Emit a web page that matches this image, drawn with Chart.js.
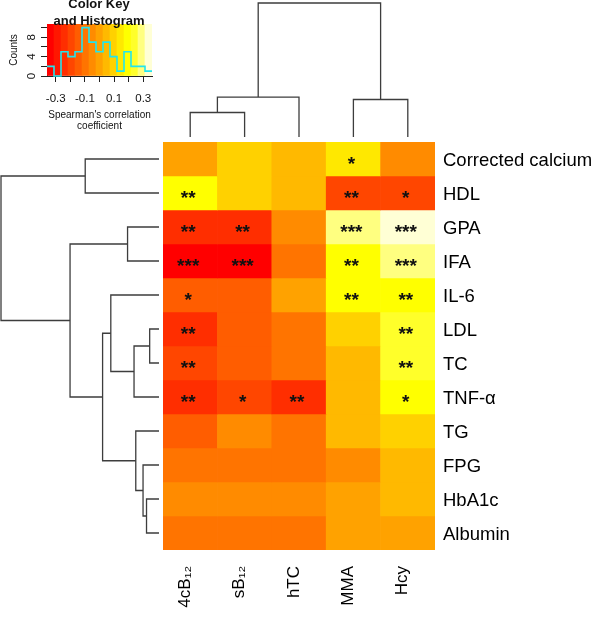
<!DOCTYPE html>
<html><head><meta charset="utf-8">
<script src="https://cdn.jsdelivr.net/npm/chart.js@4.4.1/dist/chart.umd.min.js"></script>
<style>
html,body{margin:0;padding:0;background:#fff;width:600px;height:617px;overflow:hidden;position:relative}
canvas{position:absolute;display:block}
</style></head><body>
<canvas id="key" width="160" height="135" style="left:0;top:0"></canvas>
<canvas id="colDendro" width="272" height="140" style="left:163px;top:0"></canvas>
<canvas id="rowDendro" width="162" height="408" style="left:0;top:142px"></canvas>
<canvas id="heat" width="437" height="475" style="left:163px;top:142px"></canvas>
<script>
// ---------- data ----------
const columns = ['4cB\u2081\u2082', 'sB\u2081\u2082', 'hTC', 'MMA', 'Hcy'];
const rows = ['Corrected calcium', 'HDL', 'GPA', 'IFA', 'IL-6', 'LDL', 'TC', 'TNF-\u03b1', 'TG', 'FPG', 'HbA1c', 'Albumin'];

// Spearman's rho, columns in the order above
const rhoCalcium = [0.000, 0.096, 0.048, 0.144, -0.048];
const rhoHDL     = [0.192, 0.096, 0.048, -0.192, -0.192];
const rhoGPA     = [-0.240, -0.240, -0.048, 0.288, 0.336];
const rhoIFA     = [-0.336, -0.336, -0.096, 0.192, 0.288];
const rhoIL6     = [-0.144, -0.144, 0.000, 0.192, 0.192];
const rhoLDL     = [-0.240, -0.144, -0.096, 0.096, 0.240];
const rhoTC      = [-0.192, -0.144, -0.096, 0.048, 0.240];
const rhoTNF     = [-0.240, -0.192, -0.240, 0.048, 0.192];
const rhoTG      = [-0.144, -0.048, -0.096, 0.048, 0.096];
const rhoFPG     = [-0.096, -0.096, -0.096, -0.048, 0.048];
const rhoHbA1c   = [-0.048, -0.048, -0.048, 0.000, 0.048];
const rhoAlbumin = [-0.096, -0.096, -0.096, 0.000, 0.000];
const rho = [rhoCalcium, rhoHDL, rhoGPA, rhoIFA, rhoIL6, rhoLDL, rhoTC, rhoTNF, rhoTG, rhoFPG, rhoHbA1c, rhoAlbumin];

// significance marks
const starsCalcium = ['', '', '', '*', ''];
const starsHDL     = ['**', '', '', '**', '*'];
const starsGPA     = ['**', '**', '', '***', '***'];
const starsIFA     = ['***', '***', '', '**', '***'];
const starsIL6     = ['*', '', '', '**', '**'];
const starsLDL     = ['**', '', '', '', '**'];
const starsTC      = ['**', '', '', '', '**'];
const starsTNF     = ['**', '*', '**', '', '*'];
const starsTG      = ['', '', '', '', ''];
const starsFPG     = ['', '', '', '', ''];
const starsHbA1c   = ['', '', '', '', ''];
const starsAlbumin = ['', '', '', '', ''];
const stars = [starsCalcium, starsHDL, starsGPA, starsIFA, starsIL6, starsLDL, starsTC, starsTNF, starsTG, starsFPG, starsHbA1c, starsAlbumin];

// dendrograms (hclust style: negative = leaf, positive = earlier merge)
const rowMerge = [[-6, -7, 0.059], [-11, -12, 0.079], [-10, 2, 0.101], [-9, 3, 0.147], [1, -8, 0.158],
                  [-3, -4, 0.199], [-5, 5, 0.305], [7, 4, 0.357], [-1, -2, 0.467], [6, 8, 0.563], [9, 10, 1.0]];
const colMerge = [[-1, -2, 0.183], [1, -3, 0.298], [-4, -5, 0.280], [2, 3, 1.0]];

// colour key
const keyBreaks = [-0.36, -0.312, -0.264, -0.216, -0.168, -0.12, -0.072, -0.024, 0.024, 0.072, 0.12, 0.168, 0.216, 0.264, 0.312, 0.36];
const keyCounts = [2, 0, 5, 4, 5, 10, 7, 5, 7, 4, 1, 5, 2, 2, 1];
const keyColors = ['#FF0000', '#FF1700', '#FF2E00', '#FF4600', '#FF5D00', '#FF7400', '#FF8B00', '#FFA200',
                   '#FFB900', '#FFD100', '#FFE800', '#FFFF00', '#FFFF2A', '#FFFF80', '#FFFFD5'];
const keyXTicks = [-0.3, -0.2, -0.1, 0, 0.1, 0.2, 0.3];
const keyXLabels = ['-0.3', '', '-0.1', '', '0.1', '', '0.3'];
const keyYTicks = [0, 2, 4, 6, 8, 10];
const keyYLabels = ['0', '', '4', '', '8', ''];
const keyYMax = 10.75;

// ---------- helpers ----------
const FONT = '"Liberation Sans", Arial, Helvetica, sans-serif';
Chart.defaults.font.family = FONT;
Chart.defaults.color = '#111';
Chart.defaults.plugins.legend.display = false;
Chart.defaults.plugins.tooltip.enabled = false;

function colorFor(v) {
  for (let k = 0; k < keyColors.length; k++) {
    if (v < keyBreaks[k + 1]) return keyColors[k];
  }
  return keyColors[keyColors.length - 1];
}
function fix(w, h) {
  return function (s) {
    if (w != null) s.width = w;
    if (h != null) s.height = h;
    s.paddingLeft = 0; s.paddingRight = 0; s.paddingTop = 0; s.paddingBottom = 0;
  };
}
function dendro(merge) {
  const pos = [], hgt = [];
  const node = k => k < 0 ? { p: -k - 0.5, h: 0 } : { p: pos[k - 1], h: hgt[k - 1] };
  return merge.map(([a, b, h], i) => {
    const A = node(a), B = node(b);
    pos[i] = (A.p + B.p) / 2; hgt[i] = h;
    return [[A.p, A.h], [A.p, h], [B.p, h], [B.p, B.h]];
  });
}
const baseOpts = { responsive: false, animation: false, devicePixelRatio: 1, events: [] };
const lineStyle = { showLine: true, pointRadius: 0, borderColor: '#3d3d3d', borderWidth: 1.3, fill: false, clip: false };

// ---------- row dendrogram ----------
new Chart(document.getElementById('rowDendro'), {
  type: 'scatter',
  data: { datasets: dendro(rowMerge).map(seg => Object.assign({ data: seg.map(([p, h]) => ({ x: h, y: p })) }, lineStyle)) },
  options: Object.assign({}, baseOpts, {
    layout: { padding: { left: 1, right: 3, top: 0, bottom: 0 } },
    scales: {
      x: { type: 'linear', min: 0, max: 1, reverse: true, display: false },
      y: { type: 'linear', min: 0, max: rows.length, reverse: true, display: false }
    }
  })
});

// ---------- column dendrogram ----------
new Chart(document.getElementById('colDendro'), {
  type: 'scatter',
  data: { datasets: dendro(colMerge).map(seg => Object.assign({ data: seg.map(([p, h]) => ({ x: p, y: h })) }, lineStyle)) },
  options: Object.assign({}, baseOpts, {
    layout: { padding: { left: 0, right: 0, top: 3, bottom: 3 } },
    scales: {
      x: { type: 'linear', min: 0, max: columns.length, display: false },
      y: { type: 'linear', min: 0, max: 1, display: false }
    }
  })
});

// ---------- heatmap ----------
const starPlugin = {
  id: 'stars',
  afterDatasetsDraw(chart) {
    const ctx = chart.ctx, xs = chart.scales.x, ys = chart.scales.y;
    ctx.save();
    ctx.font = 'bold 19px ' + FONT;
    ctx.fillStyle = '#111';
    ctx.textAlign = 'center';
    ctx.textBaseline = 'alphabetic';
    stars.forEach((r, i) => r.forEach((s, j) => {
      if (!s) return;
      ctx.fillText(s, xs.getPixelForValue(j) - 2, ys.getPixelForValue(i + 0.5) + 11);
    }));
    ctx.restore();
  }
};
new Chart(document.getElementById('heat'), {
  type: 'bar',
  data: {
    labels: columns,
    datasets: rows.map((name, i) => ({
      label: name,
      data: columns.map(() => [i, i + 1]),
      backgroundColor: rho[i].map(colorFor),
      borderWidth: 0,
      grouped: false,
      barPercentage: 1,
      categoryPercentage: 1
    }))
  },
  options: Object.assign({}, baseOpts, {
    layout: { padding: 0 },
    scales: {
      x: {
        type: 'category', position: 'bottom', offset: true,
        grid: { display: false, drawTicks: false }, border: { display: false },
        ticks: { minRotation: 90, maxRotation: 90, padding: 16, autoSkip: false, labelOffset: -5,
                 font: { size: 17 }, color: '#000' },
        afterFit: fix(null, 67)
      },
      y: { type: 'linear', min: 0, max: rows.length, reverse: true, display: false },
      yRows: {
        type: 'category', labels: rows, position: 'right', offset: true,
        grid: { display: false, drawTicks: false }, border: { display: false },
        ticks: { padding: 8, autoSkip: false, labelOffset: 2, font: { size: 18.5 }, color: '#000' },
        afterFit: fix(165, null)
      }
    }
  }),
  plugins: [starPlugin]
});

// ---------- colour key with histogram ----------
const keyTitle = {
  id: 'keyTitle',
  afterDraw(chart) {
    const ctx = chart.ctx;
    ctx.save();
    ctx.font = 'bold 13px ' + FONT;
    ctx.fillStyle = '#111';
    ctx.textAlign = 'center';
    ctx.textBaseline = 'middle';
    ctx.fillText('Color Key', 99, 4);
    ctx.fillText('and Histogram', 99, 21);
    ctx.restore();
  }
};
const keyCenters = keyColors.map((c, k) => (keyBreaks[k] + keyBreaks[k + 1]) / 2);
new Chart(document.getElementById('key'), {
  type: 'bar',
  data: {
    datasets: [
      {
        type: 'line', order: 0,
        data: keyBreaks.map((b, k) => ({ x: b, y: keyCounts[Math.min(k, keyCounts.length - 1)] })),
        stepped: 'before', borderColor: '#22e5ee', borderWidth: 1.6, pointRadius: 0, fill: false, clip: false
      },
      {
        type: 'bar', order: 1,
        data: keyCenters.map(x => ({ x: x, y: keyYMax })),
        backgroundColor: keyColors, borderWidth: 0, barPercentage: 1, categoryPercentage: 1
      }
    ]
  },
  options: Object.assign({}, baseOpts, {
    layout: { padding: { top: 24, right: 8, left: 0, bottom: 0 } },
    scales: {
      x: {
        type: 'linear', min: keyBreaks[0], max: keyBreaks[keyBreaks.length - 1], offset: false,
        grid: { display: true, drawOnChartArea: false, drawTicks: true, tickLength: 6, color: '#222', offset: false },
        border: { display: true, color: '#222' },
        afterBuildTicks: s => { s.ticks = keyXTicks.map(v => ({ value: v })); },
        ticks: { autoSkip: false, padding: 10, maxRotation: 0, font: { size: 11.5 }, color: '#111',
                 callback: (v, i) => keyXLabels[i] },
        title: { display: true, text: ["Spearman's correlation", 'coefficient'], font: { size: 10, lineHeight: 1.17 },
                 color: '#111', padding: { top: 0, bottom: 2.5 } },
        afterFit: fix(null, 59)
      },
      y: {
        type: 'linear', min: 0, max: keyYMax,
        grid: { display: true, drawOnChartArea: false, drawTicks: true, tickLength: 6, color: '#222' },
        border: { display: true, color: '#222' },
        afterBuildTicks: s => { s.ticks = keyYTicks.map(v => ({ value: v })); },
        ticks: { autoSkip: false, padding: 6, minRotation: 90, maxRotation: 90, crossAlign: 'center',
                 font: { size: 11.5 }, color: '#111', callback: (v, i) => keyYLabels[i] },
        title: { display: true, text: 'Counts', font: { size: 10, lineHeight: 1.2 }, color: '#111',
                 padding: { top: 8.7, bottom: 0 } },
        afterFit: fix(47, null)
      }
    }
  }),
  plugins: [keyTitle]
});
</script>
</body></html>
